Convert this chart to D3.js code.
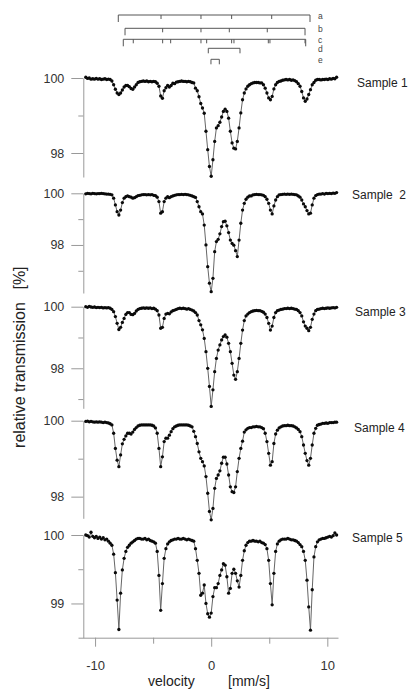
<!DOCTYPE html>
<html>
<head>
<meta charset="utf-8">
<script src="https://cdn.jsdelivr.net/npm/d3@7"></script>
<style>
  body { margin: 0; background: #fff; }
  svg { display: block; font-family: "Liberation Sans", Arial, sans-serif; }
</style>
</head>
<body>
<svg width="418" height="689"></svg>
<script>
// channel velocities in mm/s, one every 0.15 mm/s
var velocity = d3.range(145).map(function (i) { return -10.8 + 0.15 * i })

// relative transmission [%], one value per channel
var sample1 = [
  100.02, 99.99, 100.00, 99.97, 99.98, 99.97, 99.99, 99.97, 99.98, 99.96, 99.97, 99.98, 99.96, 99.97, 99.96,
  99.92, 99.82, 99.70, 99.60, 99.56, 99.60, 99.68, 99.76, 99.80, 99.80, 99.77, 99.72, 99.70, 99.76, 99.82,
  99.88, 99.90, 99.91, 99.92, 99.91, 99.92, 99.90, 99.91, 99.90, 99.91, 99.90, 99.86, 99.78, 99.52, 99.46,
  99.66, 99.74, 99.80, 99.76, 99.80, 99.86, 99.85, 99.89, 99.90, 99.91, 99.92, 99.91, 99.91, 99.90, 99.91,
  99.90, 99.88, 99.87,
  99.73, 99.66, 99.50, 99.32, 99.20, 99.06, 98.58, 98.09, 97.64, 97.38, 97.82, 98.31, 98.67, 98.73, 98.82,
  98.96, 99.11, 99.17, 99.11, 98.93, 98.58, 98.27, 98.13, 98.11, 98.31, 98.67, 99.07, 99.42, 99.60, 99.71,
  99.78, 99.82,
  99.85, 99.87, 99.88, 99.88, 99.88, 99.87, 99.87, 99.82, 99.73, 99.60, 99.47, 99.42, 99.51, 99.71, 99.82,
  99.88, 99.91, 99.92, 99.94, 99.95, 99.96, 99.95, 99.96, 99.94, 99.95, 99.93, 99.90, 99.85, 99.78, 99.64,
  99.47, 99.38, 99.44, 99.56, 99.69, 99.82, 99.88, 99.94, 99.96, 99.96, 99.95, 99.96, 99.96, 99.97, 99.96,
  99.98, 99.97, 99.99, 99.98, 100.02
]
var sample2 = [
  99.98, 100.00, 99.99, 99.98, 100.00, 99.99, 99.98, 99.99, 99.99, 100.00, 99.99, 99.98, 99.97, 99.97, 99.96,
  99.94, 99.81, 99.55, 99.29, 99.16, 99.35, 99.64, 99.81, 99.87, 99.90, 99.87, 99.85, 99.81, 99.83, 99.87,
  99.91, 99.92, 99.94, 99.95, 99.95, 99.94, 99.95, 99.94, 99.95, 99.92, 99.91, 99.85, 99.68, 99.23, 99.29,
  99.68, 99.81, 99.87, 99.83, 99.87, 99.90, 99.92, 99.94, 99.95, 99.95, 99.96, 99.95, 99.96, 99.95, 99.94,
  99.92, 99.90, 99.87,
  99.84, 99.68, 99.48, 99.29, 99.20, 98.77, 98.00, 97.16, 96.52, 96.19, 96.71, 97.74, 98.13, 98.22, 98.43,
  98.71, 98.90, 98.92, 98.74, 98.48, 98.19, 98.06, 97.99, 97.78, 97.55, 98.19, 98.84, 99.35, 99.61, 99.77,
  99.85, 99.90,
  99.90, 99.94, 99.95, 99.96, 99.95, 99.95, 99.94, 99.92, 99.87, 99.77, 99.61, 99.35, 99.20, 99.51, 99.74,
  99.87, 99.94, 99.95, 99.96, 99.97, 99.96, 99.97, 99.96, 99.97, 99.96, 99.95, 99.94, 99.90, 99.85, 99.74,
  99.59, 99.48, 99.33, 99.20, 99.23, 99.55, 99.81, 99.91, 99.95, 99.97, 99.97, 99.99, 99.97, 100.00, 99.99,
  100.00, 99.99, 100.01, 100.00, 100.03
]
var sample3 = [
  100.00, 99.98, 100.01, 99.99, 99.98, 99.99, 99.97, 99.98, 99.97, 99.98, 99.96, 99.97, 99.96, 99.97, 99.95,
  99.91, 99.84, 99.68, 99.46, 99.26, 99.33, 99.49, 99.62, 99.75, 99.81, 99.81, 99.75, 99.74, 99.78, 99.86,
  99.91, 99.94, 99.95, 99.96, 99.95, 99.96, 99.95, 99.96, 99.94, 99.95, 99.92, 99.87, 99.73, 99.30, 99.33,
  99.62, 99.76, 99.78, 99.77, 99.83, 99.87, 99.89, 99.91, 99.94, 99.95, 99.94, 99.95, 99.94, 99.92, 99.94,
  99.91, 99.89, 99.86, 99.81, 99.73, 99.55, 99.41, 99.25, 98.97, 98.54, 98.00, 97.41, 96.76, 97.30, 97.89,
  98.32, 98.59, 98.76, 98.92, 99.03, 99.08, 99.01, 98.81, 98.54, 98.16, 97.78, 97.64, 97.89, 98.32, 98.81,
  99.24, 99.55, 99.70, 99.76, 99.81, 99.84, 99.86, 99.87, 99.88, 99.87, 99.87, 99.85, 99.82, 99.76, 99.65,
  99.46, 99.24, 99.37, 99.65, 99.81, 99.87, 99.89, 99.91, 99.92, 99.94, 99.94, 99.95, 99.94, 99.95, 99.94,
  99.92, 99.91, 99.87, 99.81, 99.70, 99.51, 99.37, 99.30, 99.22, 99.33, 99.59, 99.76, 99.87, 99.91, 99.92,
  99.94, 99.95, 99.94, 99.95, 99.96, 99.95, 99.96, 99.97, 99.96, 99.98
]
var sample4 = [
  99.98, 99.99, 99.97, 99.98, 99.97, 99.96, 99.97, 99.96, 99.97, 99.96, 99.95, 99.96, 99.95, 99.94, 99.92,
  99.89, 99.67, 99.27, 98.96, 98.79, 99.10, 99.39, 99.51, 99.60, 99.67, 99.67, 99.65, 99.70, 99.77, 99.82,
  99.86, 99.88, 99.89, 99.89, 99.89, 99.89, 99.89, 99.89, 99.88, 99.86, 99.81, 99.67, 99.27, 98.79, 99.05,
  99.45, 99.54, 99.54, 99.62, 99.71, 99.79, 99.84, 99.86, 99.88, 99.89, 99.89, 99.89, 99.89, 99.89, 99.88,
  99.86, 99.84, 99.72,
  99.58, 99.40, 99.18, 99.01, 98.92, 98.81, 98.53, 98.09, 97.61, 97.39, 97.69, 98.22, 98.48, 98.57, 98.68,
  98.88, 99.04, 99.04, 98.86, 98.57, 98.26, 98.13, 98.11, 98.26, 98.66, 99.01, 99.27, 99.46, 99.70, 99.76,
  99.80, 99.82,
  99.82, 99.84, 99.84, 99.85, 99.84, 99.84, 99.82, 99.79, 99.67, 99.45, 99.14, 98.83, 98.92, 99.40, 99.65,
  99.75, 99.81, 99.84, 99.86, 99.87, 99.87, 99.88, 99.87, 99.87, 99.86, 99.84, 99.81, 99.77, 99.71, 99.58,
  99.36, 99.14, 98.95, 98.83, 99.01, 99.36, 99.67, 99.80, 99.88, 99.90, 99.91, 99.93, 99.93, 99.94, 99.93,
  99.95, 99.95, 99.95, 99.96, 99.96
]
var sample5 = [
  100.00, 99.99, 99.97, 100.04, 99.98, 99.96, 99.98, 99.95, 99.97, 99.94, 99.96, 99.93, 99.94, 99.91, 99.88,
  99.85, 99.72, 99.45, 99.05, 98.62, 99.15, 99.49, 99.66, 99.76, 99.82, 99.85, 99.88, 99.90, 99.92, 99.94,
  99.95, 99.95, 99.94, 99.94, 99.95, 99.93, 99.94, 99.92, 99.91, 99.90, 99.88, 99.76, 99.41, 98.90, 99.29,
  99.66, 99.80, 99.87, 99.90, 99.92, 99.93, 99.94, 99.94, 99.95, 99.94, 99.94, 99.95, 99.94, 99.93, 99.94,
  99.93, 99.92, 99.91, 99.80, 99.63, 99.44, 99.12, 99.15, 99.27, 99.00, 98.85, 98.80, 98.86, 99.10, 99.23,
  99.23, 99.29, 99.41, 99.49, 99.58, 99.56, 99.39, 99.15, 99.22, 99.44, 99.50, 99.44, 99.33, 99.24, 99.41,
  99.63, 99.77, 99.85, 99.89, 99.91, 99.91, 99.92, 99.91, 99.91, 99.90, 99.91, 99.89, 99.88, 99.86, 99.80,
  99.63, 99.29, 98.98, 99.44, 99.76, 99.87, 99.91, 99.93, 99.94, 99.94, 99.94, 99.95, 99.94, 99.93, 99.93,
  99.92, 99.91, 99.89, 99.86, 99.83, 99.76, 99.63, 99.34, 98.95, 98.61, 99.20, 99.68, 99.83, 99.90, 99.93,
  99.94, 99.95, 99.95, 99.96, 99.97, 99.98, 99.97, 99.99, 100.03, 100.00
]

var samples = [sample1, sample2, sample3, sample4, sample5]
var sampleNames = ['Sample 1', 'Sample  2', 'Sample 3', 'Sample 4', 'Sample 5']

// lowest value shown on each panel's axis
var panelMin = [97.36, 96.14, 96.70, 97.43, 98.50]
var majorTicks = [[100, 98], [100, 98], [100, 98], [100, 98], [100, 99]]
var minorTicks = [[99], [99, 97], [99, 97], [99], [99.5]]

var xMajor = [-10, 0, 10]
var xMinor = [-5, 5]

// sub-spectra line positions (mm/s) for the stick diagram
var stickNames = ['a', 'b', 'c', 'd', 'e']
var sticks = [
  [[-8.0, -4.32, -0.88, 1.76, 5.21, 8.51]],
  [[-7.42, -4.18, -0.88, 1.56, 4.83, 8.08]],
  [[-7.57, -4.18, -0.88, 1.96, 5.06, 8.08], [-6.71, -3.49, -0.39, 1.76, 4.92, 8.14]],
  [[-0.25, 2.48]],
  [[-0.02, 0.70]]
]

// layout
var panelTop = [78, 193.3, 306.7, 420.7, 535]
var panelBottom = [177, 293, 408.3, 518.3, 637.7]
var labelPos = [[357, 83], [352, 195], [355, 312], [354, 428], [352, 538]]
var stickY = [15, 28.3, 39.3, 48.3, 59.3]
var yAxisX = 83.3

var svg = d3.select('svg')
var x = d3.scaleLinear().domain([-11.47, 10.92]).range([78, 338])

function styleAxis (g, size) {
  g.attr('font-family', null).attr('font-size', size)
  g.selectAll('.domain, .tick line').attr('stroke', '#999')
  g.selectAll('text').attr('fill', '#333')
}

samples.forEach(function (values, i) {
  var y = d3.scaleLinear().domain([100, panelMin[i]]).range([panelTop[i], panelBottom[i]])
  var panel = svg.append('g').attr('class', 'panel')

  var axisG = panel.append('g').attr('transform', 'translate(' + yAxisX + ',0)')
  axisG.call(d3.axisLeft(y).tickValues(majorTicks[i]).tickSize(12).tickPadding(7)
    .tickSizeOuter(0).tickFormat(function (d) { return String(d) }))
  styleAxis(axisG, 12.5)

  var minorG = panel.append('g').attr('transform', 'translate(' + yAxisX + ',0)')
  minorG.call(d3.axisLeft(y).tickValues(minorTicks[i]).tickSize(5).tickFormat(''))
  minorG.select('.domain').remove()
  styleAxis(minorG, 12.5)

  var line = d3.line()
    .x(function (d, j) { return x(velocity[j]) })
    .y(function (d) { return y(d) })

  panel.append('path')
    .attr('d', line(values))
    .attr('fill', 'none')
    .attr('stroke', '#666')
    .attr('stroke-width', 1)

  panel.selectAll('circle')
    .data(values)
    .join('circle')
    .attr('cx', function (d, j) { return x(velocity[j]) })
    .attr('cy', function (d) { return y(d) })
    .attr('r', 1.65)
    .attr('fill', '#0a0a0a')

  panel.append('text')
    .attr('x', labelPos[i][0])
    .attr('y', labelPos[i][1])
    .attr('dy', '0.35em')
    .style('white-space', 'pre')
    .attr('font-size', 12)
    .attr('fill', '#222')
    .text(sampleNames[i])
})

// x axis under the last panel
var xG = svg.append('g').attr('transform', 'translate(0,' + panelBottom[4] + ')')
xG.call(d3.axisBottom(x).tickValues(xMajor).tickSize(9).tickPadding(14)
  .tickSizeOuter(0).tickFormat(function (d) { return String(d) }))
styleAxis(xG, 13)
var xMinorG = svg.append('g').attr('transform', 'translate(0,' + panelBottom[4] + ')')
xMinorG.call(d3.axisBottom(x).tickValues(xMinor).tickSize(6).tickFormat(''))
xMinorG.select('.domain').remove()
styleAxis(xMinorG, 13)

svg.append('text').attr('x', 148).attr('y', 686).attr('font-size', 14).attr('fill', '#222').text('velocity')
svg.append('text').attr('x', 228).attr('y', 686).attr('font-size', 14).attr('fill', '#222').text('[mm/s]')

svg.append('text').attr('transform', 'translate(25,375) rotate(-90)')
  .attr('text-anchor', 'middle').attr('font-size', 16).attr('fill', '#222').text('relative transmission')
svg.append('text').attr('transform', 'translate(25,278) rotate(-90)')
  .attr('text-anchor', 'middle').attr('font-size', 16).attr('fill', '#222').text('[%]')

// stick diagram
var stickG = svg.append('g').attr('class', 'sticks')
sticks.forEach(function (sets, i) {
  var row = stickG.append('g')
  var all = d3.merge(sets)
  var lo = d3.min(all)
  var hi = d3.max(all)
  var yy = stickY[i]
  row.append('line')
    .attr('x1', x(lo)).attr('x2', x(hi)).attr('y1', yy).attr('y2', yy)
    .attr('stroke', '#555').attr('stroke-width', 1)
  row.selectAll('line.tick')
    .data(all)
    .join('line')
    .attr('class', 'tick')
    .attr('x1', function (d) { return x(d) })
    .attr('x2', function (d) { return x(d) })
    .attr('y1', yy)
    .attr('y2', function (d) { return yy + (d === lo || d === hi ? (all.length > 2 ? 7 : 5) : 4) })
    .attr('stroke', '#555').attr('stroke-width', 1)
  row.append('text')
    .attr('x', 318).attr('y', yy + 1).attr('dy', '0.35em')
    .attr('font-size', 8.5).attr('fill', '#444')
    .text(stickNames[i])
})
</script>
</body>
</html>
